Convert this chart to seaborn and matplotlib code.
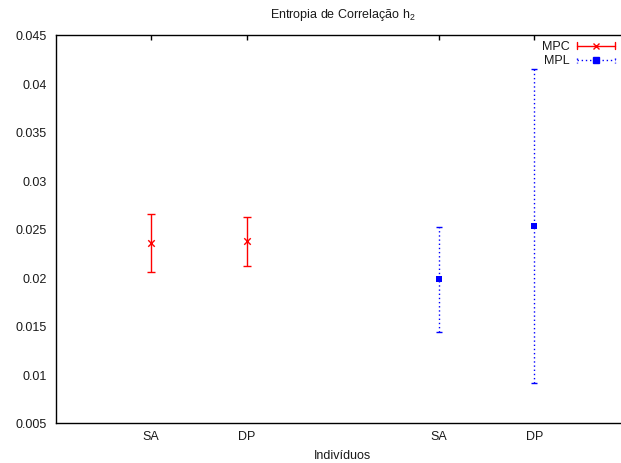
import matplotlib
matplotlib.use("Agg")
import matplotlib.pyplot as plt
import seaborn as sns
import pandas as pd
from matplotlib.lines import Line2D

# Dados: média e erro da entropia de correlação h2 por grupo
xtick_pos = [1, 2, 4, 5]
xtick_labels = ["SA", "DP", "SA", "DP"]
mpc_pos = [1, 2]
mpc_media = [0.0235, 0.0237]
mpc_erro = [0.0030, 0.0025]
mpl_pos = [4, 5]
mpl_media = [0.0198, 0.0253]
mpl_erro = [0.0054, 0.0162]
ytick_vals = [0.005, 0.01, 0.015, 0.02, 0.025, 0.03, 0.035, 0.04, 0.045]
ytick_labels = ["0.005", "0.01", "0.015", "0.02", "0.025", "0.03", "0.035", "0.04", "0.045"]

sns.set_style("white")
plt.rcParams["font.family"] = ["Liberation Sans", "DejaVu Sans"]
plt.rcParams["mathtext.fontset"] = "custom"
plt.rcParams["mathtext.rm"] = "Liberation Sans"
plt.rcParams["mathtext.it"] = "Liberation Sans"

FS = 9
TXT = "#1a1a1a"
W, H = 621, 464
fig = plt.figure(figsize=(W / 100, H / 100), dpi=100)
left, right, top, bottom = 55.5, 630.0, 35.7, 423.7
ax = fig.add_axes([left / W, 1 - bottom / H, (right - left) / W, (bottom - top) / H])

df_mpc = pd.DataFrame({"x": mpc_pos, "y": mpc_media})
df_mpl = pd.DataFrame({"x": mpl_pos, "y": mpl_media})

# MPC: barras de erro vermelhas contínuas
ax.errorbar(mpc_pos, mpc_media, yerr=mpc_erro, fmt="none", ecolor="#ff0000",
            elinewidth=1.0, capsize=2.6, capthick=1.0, zorder=2)
sns.scatterplot(data=df_mpc, x="x", y="y", marker="x", color="#ff0000",
                s=22, linewidth=1.0, ax=ax, zorder=3)

# MPL: barras de erro azuis pontilhadas
eb = ax.errorbar(mpl_pos, mpl_media, yerr=mpl_erro, fmt="none", ecolor="#0000ff",
                 elinewidth=1.0, capsize=2.0, capthick=1.0, zorder=2)
for coll in eb[2]:
    coll.set_linestyle((0, (1, 2)))
sns.scatterplot(data=df_mpl, x="x", y="y", marker="s", color="#0000ff",
                s=20, linewidth=0, ax=ax, zorder=3)

ax.set_xlim(0, 6)
ax.set_ylim(0.005, 0.045)
ax.set_xticks(xtick_pos)
ax.set_xticklabels(xtick_labels)
ax.set_yticks(ytick_vals)
ax.set_yticklabels(ytick_labels)
ax.set_xlabel("")
ax.set_ylabel("")
ax.tick_params(axis="both", direction="in", length=3.5, width=1.0, color="black",
               labelsize=FS, labelcolor=TXT, top=True, right=False)
ax.tick_params(axis="y", pad=6.3)
ax.tick_params(axis="x", pad=5.0)
for side in ["left", "top", "bottom"]:
    ax.spines[side].set_color("black")
    ax.spines[side].set_linewidth(1.0)
ax.spines["right"].set_visible(False)

cx = (left + right) / 2
fig.text(cx / W, 1 - 15 / H, r"Entropia de Correlação h$_2$", ha="center", va="center",
         fontsize=FS, color=TXT)
fig.text(cx / W, 1 - 456 / H, "Indivíduos", ha="center", va="center",
         fontsize=FS, color=TXT)

# Legenda no estilo de barras horizontais com marcador central
def fx(x):
    return x / W

def fy(y):
    return 1 - y / H

for label, yy, col, mk, ls, ms, cap in [
    ("MPC", 46.5, "#ff0000", "x", "-", 5, 3.5),
    ("MPL", 61.0, "#0000ff", "s", (0, (1, 2)), 4.5, 2.5),
]:
    fig.text(fx(570), fy(yy), label, ha="right", va="center", fontsize=FS, color=TXT)
    fig.add_artist(Line2D([fx(577), fx(615)], [fy(yy), fy(yy)], color=col, lw=1.0,
                          linestyle=ls, transform=fig.transFigure))
    for xe in (577, 615):
        fig.add_artist(Line2D([fx(xe), fx(xe)], [fy(yy - cap), fy(yy + cap)], color=col,
                              lw=1.0, linestyle=ls, transform=fig.transFigure))
    fig.add_artist(Line2D([fx(596)], [fy(yy)], color=col, marker=mk, markersize=ms,
                          markeredgewidth=1.0, linestyle="none", transform=fig.transFigure))

fig.savefig("out.png", dpi=100)
